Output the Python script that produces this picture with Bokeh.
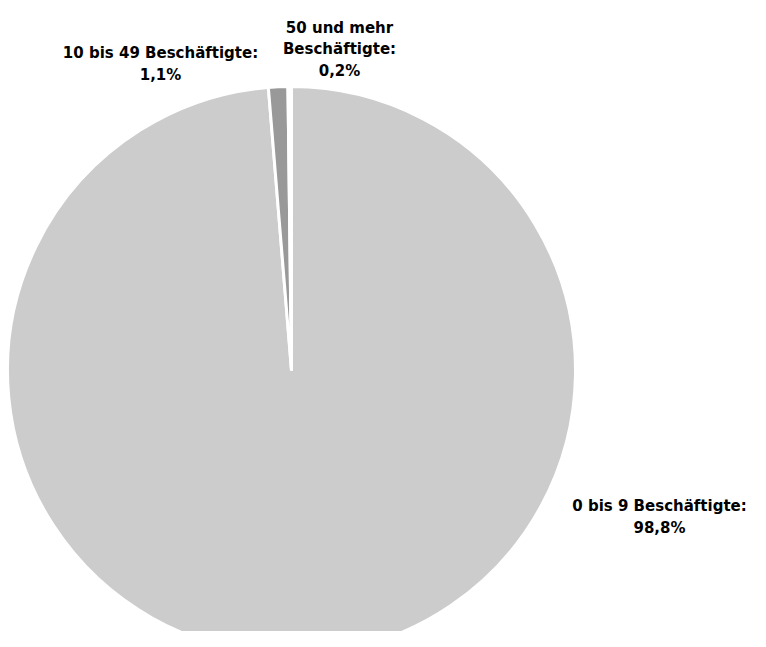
import math
from bokeh.plotting import figure
from bokeh.models import Range1d, ColumnDataSource
from bokeh.core.properties import value
from bokeh.embed import file_html
from bokeh.resources import INLINE

categories = ["0 bis 9 Beschäftigte:", "10 bis 49 Beschäftigte:", "50 und mehr\nBeschäftigte:"]
shares = [98.8, 1.1, 0.2]
colors = ["#cccccc", "#999999", "#ffffff"]

W, H = 750, 631
p = figure(width=W, height=H, output_backend="svg", toolbar_location=None,
           x_range=Range1d(0, W), y_range=Range1d(0, H), min_border=0)
p.axis.visible = False
p.grid.visible = False
p.outline_line_color = None
p.background_fill_color = "white"

def sy(y):
    return H - y

cx, cy = 291, sy(370)
total = sum(shares)
starts, ends = [], []
acc = 0.0
for s in shares:
    starts.append(math.pi / 2 - 2 * math.pi * acc / total)
    acc += s
    ends.append(math.pi / 2 - 2 * math.pi * acc / total)

src = ColumnDataSource(dict(x=[cx] * 3, y=[cy] * 3, start=starts, end=ends, color=colors))
p.wedge(x="x", y="y", radius=284, radius_units="screen", start_angle="start", end_angle="end",
        direction="clock", fill_color="color", line_color="white", line_width=3, source=src)

labels = [c + "\n" + f"{v:.1f}".replace(".", ",") + "%" for c, v in zip(categories, shares)]
# label center x and first-line baseline y (screen coords)
lab_x = [659, 160, 339]
lab_y = [505.7, 52.7, 27.5]
line_gap = 21.4

xs, ys, ts = [], [], []
for lbl, x0, y0 in zip(labels, lab_x, lab_y):
    for i, line in enumerate(lbl.split("\n")):
        xs.append(x0)
        ys.append(sy(y0 + i * line_gap))
        ts.append(line)
tsrc = ColumnDataSource(dict(x=xs, y=ys, t=ts))
p.text(x="x", y="y", text="t", source=tsrc, text_align="center", text_baseline="alphabetic",
       text_font=value("DejaVu Sans"), text_font_style="bold", text_font_size="15px",
       text_color="#000000")

open("out.html", "w").write(file_html(p, INLINE))
